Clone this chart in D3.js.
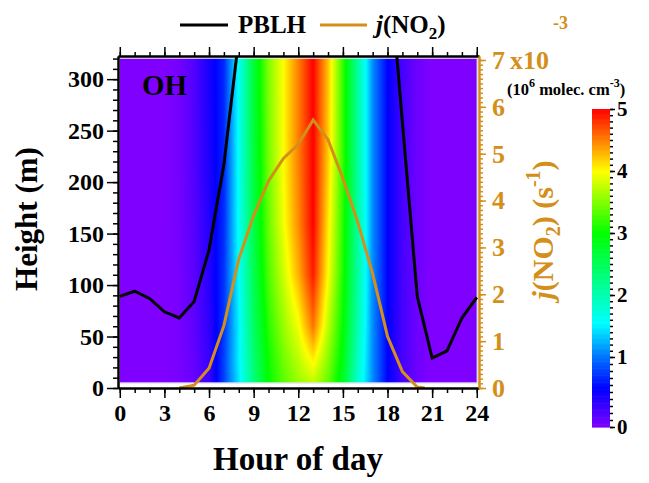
<!DOCTYPE html>
<html>
<head>
<meta charset="utf-8">
<script src="https://cdn.jsdelivr.net/npm/d3@7"></script>
<style>
  body { margin: 0; background: #fff; }
  svg { display: block; }
  text { font-family: "Liberation Serif", "Times New Roman", serif; font-weight: bold; }
</style>
</head>
<body>
<svg id="chart" width="649" height="483"></svg>
<script>
// ---- data ----
const hours = [0,1,2,3,4,5,6,7,8,9,10,11,12,13,14,15,16,17,18,19,20,21,22,23,24];
// boundary layer height (m), hourly
const pblh = [89,94,87,74,68,84,134,217,340,600,800,950,1050,1100,1100,1050,950,750,430,258,89,29,36,68,88];
// photolysis frequency j(NO2), units of 1e-3 s^-1
const jHours = [4,5,6,7,8,9,10,11,12,13,14,15,16,17,18,19,20,20.5];
const jno2   = [0,0.06,0.42,1.33,2.75,3.68,4.42,4.9,5.2,5.72,5.3,4.47,3.54,2.44,1.1,0.35,0.02,0];
// OH concentration (1e6 molec. cm^-3) on an hour x height grid
const ohHeights = [5,30,60,110,160,220,320];
const oh005 = [0,0,0,0,0.03,0.10,0.30,0.80,1.45,2.30,3.00,3.35,3.60,3.75,3.40,2.80,1.80,1.10,0.55,0.25,0.08,0,0,0,0];
const oh030 = [0,0,0,0,0.03,0.12,0.32,0.80,1.50,2.35,3.05,3.45,3.75,4.10,3.55,2.90,1.90,1.10,0.55,0.25,0.08,0,0,0,0];
const oh060 = [0,0,0,0,0.04,0.14,0.35,0.75,1.50,2.45,3.15,3.60,3.95,4.55,3.75,3.00,2.00,1.10,0.55,0.25,0.08,0,0,0,0];
const oh110 = [0,0,0,0,0.04,0.16,0.38,0.75,1.55,2.55,3.30,3.80,4.30,4.90,4.00,3.10,2.10,1.10,0.55,0.25,0.08,0,0,0,0];
const oh160 = [0,0,0,0,0.05,0.18,0.40,0.72,1.60,2.60,3.40,3.95,4.45,5.00,4.10,3.15,2.10,1.10,0.55,0.25,0.08,0,0,0,0];
const oh220 = [0,0,0,0,0.05,0.20,0.42,0.70,1.60,2.65,3.45,4.00,4.50,5.00,4.20,3.20,2.10,1.10,0.55,0.25,0.08,0,0,0,0];
const oh320 = [0,0,0,0,0.05,0.20,0.45,0.70,1.60,2.70,3.50,4.00,4.50,5.00,4.25,3.20,2.10,1.10,0.55,0.25,0.08,0,0,0,0];
const ohRows = [oh005, oh030, oh060, oh110, oh160, oh220, oh320];

const xTicks  = [0,3,6,9,12,15,18,21,24];
const yTicks  = [0,50,100,150,200,250,300];
const jTicks  = [0,1,2,3,4,5,6,7];
const cbTicks = [0,1,2,3,4,5];
const colorStops  = [0,0.55,1.55,3,4,4.5,5];
const colorValues = ["#8000ff","#0000ff","#00ffff","#00ff00","#ffff00","#ff8000","#ff0000"];

const ORANGE = "#d38f1a";
const intFmt = d3.format("d");

// ---- scales ----
const svg = d3.select("#chart");
const x  = d3.scaleLinear().domain([-0.12, 24.15]).range([118, 479]);
const y  = d3.scaleLinear().domain([0, 322.5]).range([388, 56]);
const yj = d3.scaleLinear().domain([0, 7.085]).range([388, 56]);
const cb = d3.scaleLinear().domain([0, 1, 5]).range([427, 357, 109]);
const color = d3.scaleLinear().domain(colorStops).range(colorValues).clamp(true);

// ---- OH field, bilinear between grid nodes ----
function ohAt(hr, ht) {
  const i = Math.max(0, Math.min(hours.length - 2, Math.floor(hr)));
  const fx = Math.max(0, Math.min(1, (hr - hours[i]) / (hours[i+1] - hours[i])));
  let j = d3.bisectRight(ohHeights, ht) - 1;
  j = Math.max(0, Math.min(ohHeights.length - 2, j));
  const fy = Math.max(0, Math.min(1, (ht - ohHeights[j]) / (ohHeights[j+1] - ohHeights[j])));
  const a = ohRows[j][i] * (1 - fx) + ohRows[j][i+1] * fx;
  const b = ohRows[j+1][i] * (1 - fx) + ohRows[j+1][i+1] * fx;
  return a * (1 - fy) + b * fy;
}
const fx0 = x(hours[0]), fx1 = x(hours[hours.length-1]);
const fy0 = y(ohHeights[ohHeights.length-1]), fy1 = y(ohHeights[0]);
const W = Math.round(fx1 - fx0), H = Math.round(fy1 - fy0);
const cnv = document.createElement("canvas");
cnv.width = W; cnv.height = H;
const ctx = cnv.getContext("2d");
const img = ctx.createImageData(W, H);
for (let py = 0; py < H; py++) {
  const ht = y.invert(fy0 + py + 0.5);
  for (let px = 0; px < W; px++) {
    const hr = x.invert(fx0 + px + 0.5);
    const c = d3.rgb(color(ohAt(hr, ht)));
    const k = (py * W + px) * 4;
    img.data[k] = c.r; img.data[k+1] = c.g; img.data[k+2] = c.b; img.data[k+3] = 255;
  }
}
ctx.putImageData(img, 0, 0);
svg.append("image")
  .attr("x", fx0).attr("y", fy0).attr("width", W).attr("height", H)
  .attr("preserveAspectRatio", "none")
  .attr("href", cnv.toDataURL());
// thin light frame around the shaded field
svg.append("rect").attr("x", fx0 - 0.5).attr("y", fy0 - 0.5).attr("width", W + 1).attr("height", H + 1)
  .attr("fill", "none").attr("stroke", "#d8d8e8").attr("stroke-width", 1);

// ---- lines ----
svg.append("clipPath").attr("id", "plotClip")
  .append("rect").attr("x", 118).attr("y", 56).attr("width", 361).attr("height", 332);
const plot = svg.append("g").attr("clip-path", "url(#plotClip)");

plot.append("path")
  .datum(hours.map((h, i) => [h, pblh[i]]))
  .attr("fill", "none").attr("stroke", "#000").attr("stroke-width", 3)
  .attr("d", d3.line().x(d => x(d[0])).y(d => y(d[1])));

plot.append("path")
  .datum(jHours.map((h, i) => [h, jno2[i]]))
  .attr("fill", "none").attr("stroke", ORANGE).attr("stroke-width", 3)
  .attr("d", d3.line().x(d => x(d[0])).y(d => yj(d[1])));

// ---- axes ----
function styleAxis(g, col, fs) {
  g.select(".domain").attr("stroke", col).attr("stroke-width", 2);
  g.selectAll(".tick line").attr("stroke", col).attr("stroke-width", 1.5);
  g.selectAll(".tick text").attr("fill", col).style("font-size", fs + "px")
    .style("font-family", '"Liberation Serif", serif').style("font-weight", "bold");
}
const minorHours = d3.range(0, 25, 1);
// bottom
svg.append("g").attr("transform", "translate(0,388)")
  .call(d3.axisBottom(x).tickValues(minorHours).tickSize(5).tickSizeOuter(0).tickFormat(""))
  .call(g => styleAxis(g, "#000", 20));
svg.append("g").attr("transform", "translate(0,388)")
  .call(d3.axisBottom(x).tickValues(xTicks).tickSize(10).tickSizeOuter(0).tickPadding(6).tickFormat(intFmt))
  .call(g => styleAxis(g, "#000", 24));
// top
svg.append("g").attr("transform", "translate(0,56)")
  .call(d3.axisTop(x).tickValues(minorHours).tickSize(4).tickSizeOuter(0).tickFormat(""))
  .call(g => styleAxis(g, "#000", 20));
svg.append("g").attr("transform", "translate(0,56)")
  .call(d3.axisTop(x).tickValues(xTicks).tickSize(9).tickSizeOuter(0).tickFormat(""))
  .call(g => styleAxis(g, "#000", 20));
// left
svg.append("g").attr("transform", "translate(118,0)")
  .call(d3.axisLeft(y).tickValues(d3.range(0, 321, 10)).tickSize(5).tickSizeOuter(0).tickFormat(""))
  .call(g => styleAxis(g, "#000", 20));
svg.append("g").attr("transform", "translate(118,0)")
  .call(d3.axisLeft(y).tickValues(yTicks).tickSize(11).tickSizeOuter(0).tickPadding(3).tickFormat(intFmt))
  .call(g => styleAxis(g, "#000", 24));
// right (j(NO2))
svg.append("g").attr("transform", "translate(479,0)")
  .call(d3.axisRight(yj).tickValues(d3.range(0, 70.5, 1).map(v => v / 10)).tickSize(4).tickSizeOuter(0).tickFormat(""))
  .call(g => styleAxis(g, ORANGE, 20));
svg.append("g").attr("transform", "translate(479,0)")
  .call(d3.axisRight(yj).tickValues(jTicks).tickSize(7).tickSizeOuter(0).tickPadding(6).tickFormat(intFmt))
  .call(g => styleAxis(g, ORANGE, 26));

// exponent next to the top right tick
const expo = svg.append("text").attr("x", 510).attr("y", yj(7) + 9).attr("fill", ORANGE).style("font-size", "26px");
expo.append("tspan").text("x10");
expo.append("tspan").attr("dx", 4).attr("dy", -40).style("font-size", "18px").text("-3");

// ---- colour bar ----
const cbX = 592, cbW = 18;
const cbSteps = d3.range(0, 5, 0.02);
svg.append("g").selectAll("rect").data(cbSteps).join("rect")
  .attr("x", cbX).attr("width", cbW)
  .attr("y", d => cb(d + 0.02)).attr("height", d => cb(d) - cb(d + 0.02) + 0.6)
  .attr("fill", d => color(d + 0.01));
svg.append("g").attr("transform", `translate(${cbX + cbW},0)`)
  .call(d3.axisRight(cb).tickValues(d3.range(0, 50.5, 1).map(v => v / 10)).tickSize(3).tickSizeOuter(0).tickFormat(""))
  .call(g => styleAxis(g, "#000", 18))
  .call(g => g.select(".domain").remove());
svg.append("g").attr("transform", `translate(${cbX + cbW},0)`)
  .call(d3.axisRight(cb).tickValues(cbTicks).tickSize(5).tickSizeOuter(0).tickPadding(2).tickFormat(intFmt))
  .call(g => styleAxis(g, "#000", 21))
  .call(g => g.select(".domain").remove());

const cbt = svg.append("text").attr("x", 507).attr("y", 95).attr("fill", "#000").style("font-size", "16.5px");
cbt.append("tspan").text("(10");
cbt.append("tspan").attr("dy", -8).style("font-size", "12px").text("6");
cbt.append("tspan").attr("dy", 8).text(" molec. cm");
cbt.append("tspan").attr("dy", -8).style("font-size", "12px").text("-3");
cbt.append("tspan").attr("dy", 8).text(")");

// ---- labels ----
svg.append("text").attr("x", 142).attr("y", 95).style("font-size", "29px").text("OH");

svg.append("text").attr("x", 298).attr("y", 470).attr("text-anchor", "middle")
  .style("font-size", "33px").text("Hour of day");

svg.append("text").attr("transform", "translate(37,219) rotate(-90)").attr("text-anchor", "middle")
  .style("font-size", "31px").text("Height (m)");

const rt = svg.append("text").attr("transform", "translate(553,230) rotate(-90)")
  .attr("text-anchor", "middle").attr("fill", ORANGE).style("font-size", "30px");
rt.append("tspan").style("font-style", "italic").text("j");
rt.append("tspan").text("(NO");
rt.append("tspan").attr("dy", 7).style("font-size", "20px").text("2");
rt.append("tspan").attr("dy", -7).text(") (s");
rt.append("tspan").attr("dy", -13).style("font-size", "20px").text("-1");
rt.append("tspan").attr("dy", 13).text(")");

// ---- legend ----
const lg = svg.append("g");
lg.append("line").attr("x1", 180).attr("x2", 228).attr("y1", 25).attr("y2", 25).attr("stroke", "#000").attr("stroke-width", 3);
lg.append("text").attr("x", 238).attr("y", 33).style("font-size", "25px").text("PBLH");
lg.append("line").attr("x1", 320).attr("x2", 367).attr("y1", 25).attr("y2", 25).attr("stroke", ORANGE).attr("stroke-width", 3);
const lt = lg.append("text").attr("x", 376).attr("y", 33).style("font-size", "25px");
lt.append("tspan").style("font-style", "italic").text("j");
lt.append("tspan").text("(NO");
lt.append("tspan").attr("dy", 6).style("font-size", "17px").text("2");
lt.append("tspan").attr("dy", -6).text(")");
</script>
</body>
</html>
